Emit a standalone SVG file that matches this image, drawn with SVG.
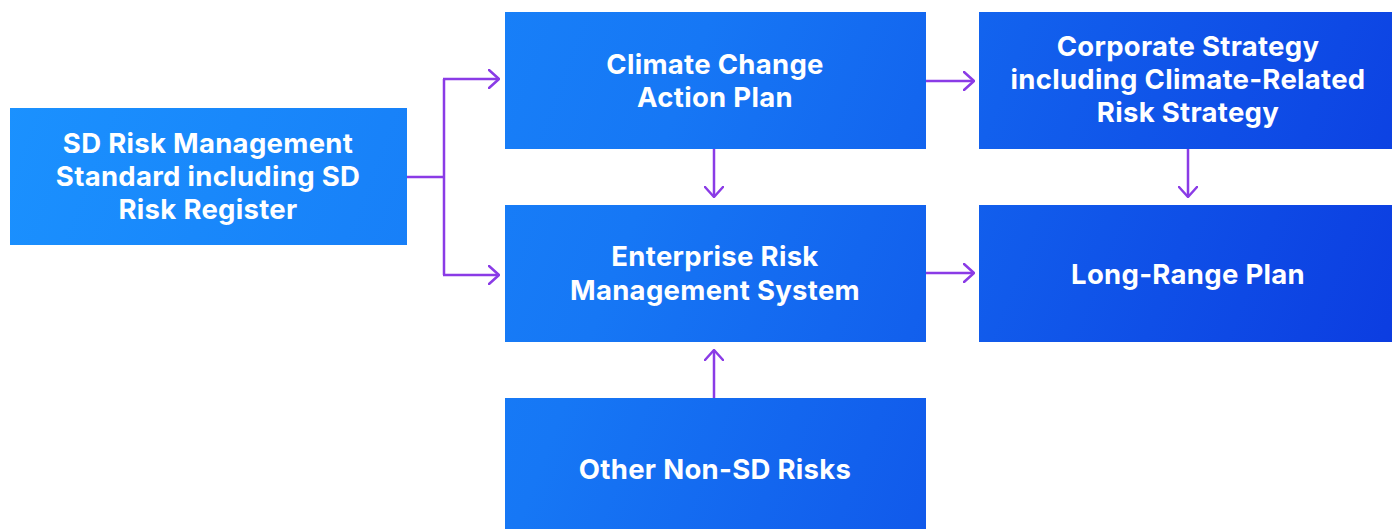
<svg xmlns="http://www.w3.org/2000/svg" width="1392" height="529" viewBox="0 0 1392 529">
<defs>
<linearGradient id="g" gradientUnits="userSpaceOnUse" x1="0" y1="0" x2="1392" y2="529">
<stop offset="0" stop-color="#1b93ff"/>
<stop offset="0.45" stop-color="#1677f5"/>
<stop offset="1" stop-color="#0b38df"/>
</linearGradient>
<marker id="ah" viewBox="0 0 12 20" refX="11" refY="10" markerWidth="12" markerHeight="20" markerUnits="userSpaceOnUse" orient="auto">
<path d="M1,1 L11,10 L1,19" fill="none" stroke="#8a3be6" stroke-width="2.5" stroke-linecap="round" stroke-linejoin="round"/>
</marker>
</defs>
<style>
.box{fill:url(#g);}
.t{font-family:Inter,"Noto Sans","Liberation Sans",sans-serif;font-weight:700;font-size:27.5px;letter-spacing:0.3px;fill:#ffffff;text-anchor:middle;}
.c{fill:none;stroke:#8a3be6;stroke-width:2.5;}
</style>
<rect width="1392" height="529" fill="#ffffff"/>
<g id="connectors">
<path class="c" d="M407,177 H444 M444,79 V275"/>
<path class="c" d="M443,79 H499" marker-end="url(#ah)"/>
<path class="c" d="M443,275 H499" marker-end="url(#ah)"/>
<path class="c" d="M926,81 H974" marker-end="url(#ah)"/>
<path class="c" d="M926,273 H974" marker-end="url(#ah)"/>
<path class="c" d="M714,149 V197" marker-end="url(#ah)"/>
<path class="c" d="M1188,149 V197" marker-end="url(#ah)"/>
<path class="c" d="M714,398 V350" marker-end="url(#ah)"/>
</g>
<g id="sd-risk">
<rect class="box" x="10" y="108" width="397" height="137"/>
<text class="t" x="208" y="153">SD Risk Management</text>
<text class="t" x="208" y="186">Standard including SD</text>
<text class="t" x="208" y="219">Risk Register</text>
</g>
<g id="climate">
<rect class="box" x="505" y="12" width="421" height="137"/>
<text class="t" x="715" y="74">Climate Change</text>
<text class="t" x="715" y="107">Action Plan</text>
</g>
<g id="enterprise">
<rect class="box" x="505" y="205" width="421" height="137"/>
<text class="t" x="715" y="266">Enterprise Risk</text>
<text class="t" x="715" y="300">Management System</text>
</g>
<g id="other">
<rect class="box" x="505" y="398" width="421" height="131"/>
<text class="t" x="715" y="479">Other Non-SD Risks</text>
</g>
<g id="corporate">
<rect class="box" x="979" y="12" width="413" height="137"/>
<text class="t" x="1188" y="56">Corporate Strategy</text>
<text class="t" x="1188" y="89">including Climate-Related</text>
<text class="t" x="1188" y="122">Risk Strategy</text>
</g>
<g id="long-range">
<rect class="box" x="979" y="205" width="413" height="137"/>
<text class="t" x="1188" y="284">Long-Range Plan</text>
</g>
</svg>
